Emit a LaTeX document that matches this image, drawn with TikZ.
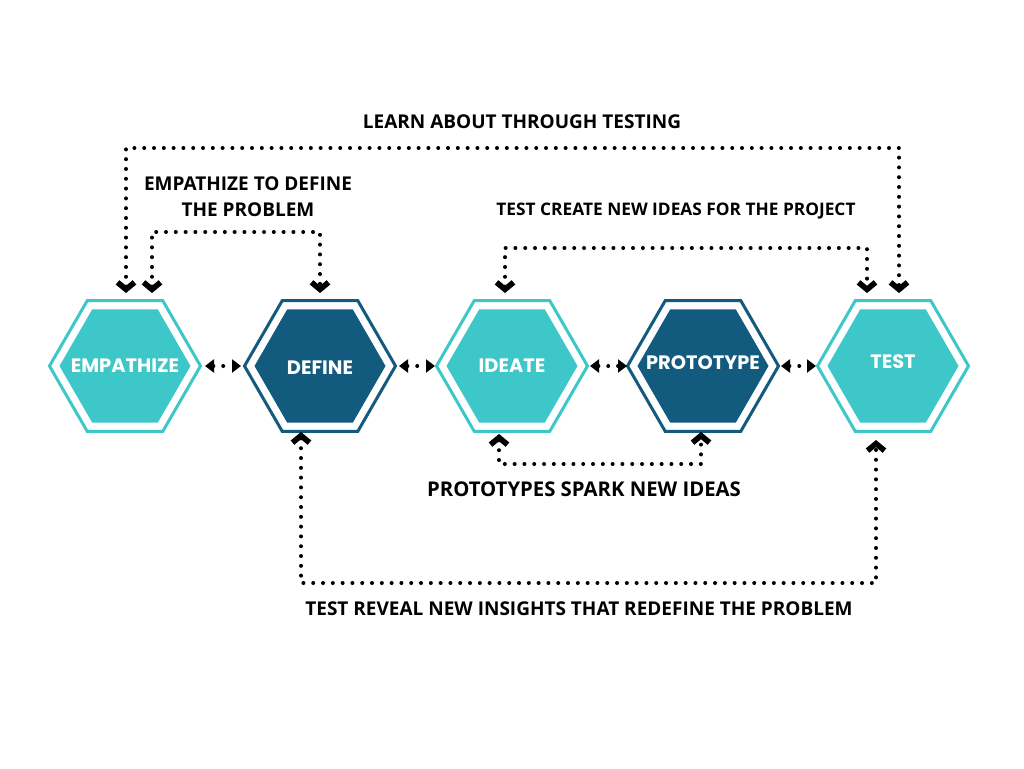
\documentclass[tikz,border=0pt]{standalone}
\usepackage{fontspec}
\setmainfont{Open Sans}
\newfontfamily\hexfont{Poppins}
\usetikzlibrary{shapes.geometric,arrows.meta,calc}
\definecolor{tealhex}{HTML}{3DC7C8}
\definecolor{navyhex}{HTML}{135A7F}
\begin{document}
\begin{tikzpicture}[x=1pt,y=-1pt,
  hexout/.style={regular polygon,regular polygon sides=6,minimum size=151pt,inner sep=0pt,outer sep=0pt,draw=#1,line width=3pt},
  hexin/.style={regular polygon,regular polygon sides=6,minimum size=131pt,inner sep=0pt,outer sep=0pt,fill=#1},
  hexlabel/.style={text=white,inner sep=0pt,font=\hexfont\bfseries\fontsize{19.4}{21}\selectfont},
  lab/.style={inner sep=0pt,align=center,font=\bfseries\fontsize{19}{26}\selectfont},
  dotline/.style={line width=4pt,line cap=round,dash pattern=on 0pt off 9.8pt},
  chev/.style={dotline,{Straight Barb[length=7pt,width=17pt,line width=0pt 1.4]}-{Straight Barb[length=7pt,width=17pt,line width=0pt 1.4]}},
  tri/.style={dotline,{Triangle[length=9pt,width=13pt]}-{Triangle[length=9pt,width=13pt]}}
]
\fill[white] (0,0) rectangle (1024,768);
\useasboundingbox (0,0) rectangle (1024,768);

% hexagons
\node[hexout=tealhex] (emp) at (125,366) {};
\node[hexin=tealhex] (empin) at (emp) {};
\node[hexlabel] (empt) at (emp) {EMPATHIZE};

\node[hexout=navyhex] (def) at (320,366) {};
\node[hexin=navyhex] (defin) at (def) {};
\node[hexlabel] (deft) at ([yshift=-2pt]def.center) {DEFINE};

\node[hexout=tealhex] (ide) at (512,366) {};
\node[hexin=tealhex] (idein) at (ide) {};
\node[hexlabel] (idet) at (ide) {IDEATE};

\node[hexout=navyhex] (pro) at (703,366) {};
\node[hexin=navyhex] (proin) at (pro) {};
\node[hexlabel] (prot) at ([yshift=3pt]pro.center) {PROTOTYPE};

\node[hexout=tealhex] (tst) at (893,366) {};
\node[hexin=tealhex] (tstin) at (tst) {};
\node[hexlabel] (tstt) at ([yshift=4pt]tst.center) {TEST};

% labels
\node[lab] (l1) at (522,122) {LEARN ABOUT THROUGH TESTING};
\node[lab] (l2) at (248,197) {EMPATHIZE TO DEFINE\\THE PROBLEM};
\node[lab,font=\bfseries\fontsize{17.3}{22}\selectfont] (l3) at (676,211) {TEST CREATE NEW IDEAS FOR THE PROJECT};
\node[lab,font=\bfseries\fontsize{20.3}{24}\selectfont] (l4) at (584,489) {PROTOTYPES SPARK NEW IDEAS};
\node[lab] (l5) at (579,609) {TEST REVEAL NEW INSIGHTS THAT REDEFINE THE PROBLEM};

% horizontal double arrows
\draw[tri] ($(emp)+(80,0)$) -- ($(def)+(-79,0)$);
\draw[tri] ($(def)+(79,0)$) -- ($(ide)+(-77,0)$);
\draw[tri] ($(ide)+(78,0)$) -- ($(pro)+(-76,0)$);
\draw[tri] ($(pro)+(78,0)$) -- ($(tst)+(-77,0)$);

% loops
\draw[chev] ($(emp)+(1,-73)$) -- ++(0,-145) -| ($(tst)+(6,-73)$);
\draw[chev] ($(emp)+(27,-73)$) -- ++(0,-61) -| ($(def)+(0,-73)$);
\draw[chev] ($(ide)+(-7,-73)$) -- ++(0,-45) -| ($(tst)+(-26,-73)$);
\draw[chev] ($(ide)+(-13,68)$) -- ++(0,30) -| ($(pro)+(-2,66)$);
\draw[chev] ($(def)+(-19,66)$) -- ++(0,151) -| ($(tst)+(-17,74)$);
\end{tikzpicture}
\end{document}
